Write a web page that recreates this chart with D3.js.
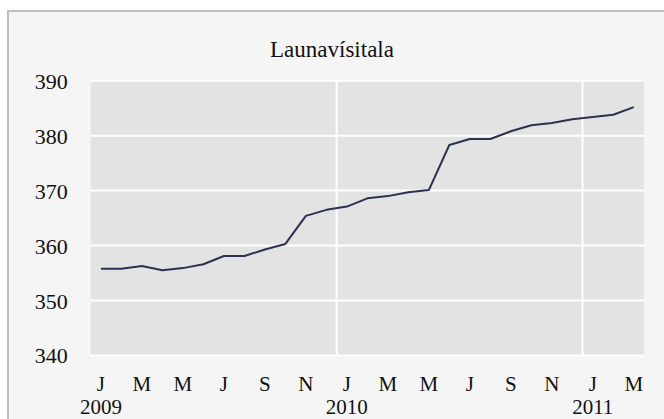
<!DOCTYPE html>
<html><head><meta charset="utf-8">
<script src="https://cdn.jsdelivr.net/npm/d3@7"></script>
<style>html,body{margin:0;padding:0;background:#fff;}svg{display:block;}</style>
</head><body>
<script>
const title = "Launavísitala";
const months = ["2009-01","2009-02","2009-03","2009-04","2009-05","2009-06","2009-07","2009-08","2009-09","2009-10","2009-11","2009-12",
  "2010-01","2010-02","2010-03","2010-04","2010-05","2010-06","2010-07","2010-08","2010-09","2010-10","2010-11","2010-12",
  "2011-01","2011-02","2011-03"];
const values = [355.8,355.8,356.3,355.5,355.9,356.6,358.1,358.1,359.3,360.3,365.4,366.5,
  367.1,368.6,369.0,369.7,370.1,378.3,379.4,379.4,380.8,381.9,382.3,383.0,
  383.4,383.8,385.2];
const monthLetters = ["J","F","M","A","M","J","J","Á","S","O","N","D"];
const yTicks = [340,350,360,370,380,390];

(function () {
const W = 664, H = 419;
const svg = d3.select("body").append("svg").attr("width", W).attr("height", H);
const font = "Liberation Serif, Times New Roman, serif";
const fsY = 22, fsX = 21;

svg.append("rect").attr("x", 8).attr("y", 11).attr("width", 660).attr("height", 420)
  .attr("fill", "#f5f5f5").attr("stroke", "#bdbdbd").attr("stroke-width", 2);

const pl = 90.7, pr = 644, pt = 80.7, pb = 355.5;
const x = d3.scaleBand().domain(months).range([pl, pr]).padding(0);
const y = d3.scaleLinear().domain([340, 390]).range([pb, pt]);

svg.append("rect").attr("x", pl).attr("y", pt).attr("width", pr - pl).attr("height", pb - pt)
  .attr("fill", "#e3e3e3");

svg.append("g").selectAll("line").data(yTicks).join("line")
  .attr("x1", pl).attr("x2", pr)
  .attr("y1", d => y(d)).attr("y2", d => y(d))
  .attr("stroke", "#ffffff").attr("stroke-width", 2);

const yearStarts = months.filter((m, i) => i > 0 && m.endsWith("-01"));
svg.append("g").selectAll("line").data(yearStarts).join("line")
  .attr("x1", d => x(d)).attr("x2", d => x(d))
  .attr("y1", pt).attr("y2", pb)
  .attr("stroke", "#ffffff").attr("stroke-width", 2);

const line = d3.line().x((d, i) => x(months[i]) + x.bandwidth() / 2).y(d => y(d));
svg.append("path").datum(values).attr("d", line)
  .attr("fill", "none").attr("stroke", "#2b3250").attr("stroke-width", 2).attr("stroke-linejoin", "round");

const yAxis = d3.axisLeft(y).tickValues(yTicks).tickSize(0).tickPadding(0);
const gy = svg.append("g").attr("transform", `translate(${pl - 23},0)`).call(yAxis);
gy.attr("font-family", font).attr("font-size", fsY);
gy.select(".domain").remove();
gy.selectAll("text").attr("font-family", font).attr("font-size", fsY).attr("fill", "#111").attr("dy", "0.34em");

const xLabMonths = months.filter((m, i) => i % 2 === 0);
const xAxis = d3.axisBottom(x).tickValues(xLabMonths).tickSize(0).tickPadding(0)
  .tickFormat(d => monthLetters[+d.slice(5) - 1]);
const gx = svg.append("g").call(xAxis);
gx.attr("font-family", font).attr("font-size", fsX);
gx.select(".domain").remove();
gx.selectAll("text").attr("font-family", font).attr("font-size", fsX).attr("fill", "#111")
  .attr("y", 390.5).attr("dy", null);

svg.append("g").selectAll("text").data(months.filter(m => m.endsWith("-01"))).join("text")
  .attr("x", d => x(d) + x.bandwidth() / 2).attr("y", 414.2)
  .attr("text-anchor", "middle").attr("font-family", font).attr("font-size", fsX).attr("fill", "#111")
  .text(d => d.slice(0, 4));

svg.append("text").attr("x", 332).attr("y", 57).attr("text-anchor", "middle")
  .attr("font-family", font).attr("font-size", 23).attr("fill", "#111").text(title);
})();
</script>
</body></html>
